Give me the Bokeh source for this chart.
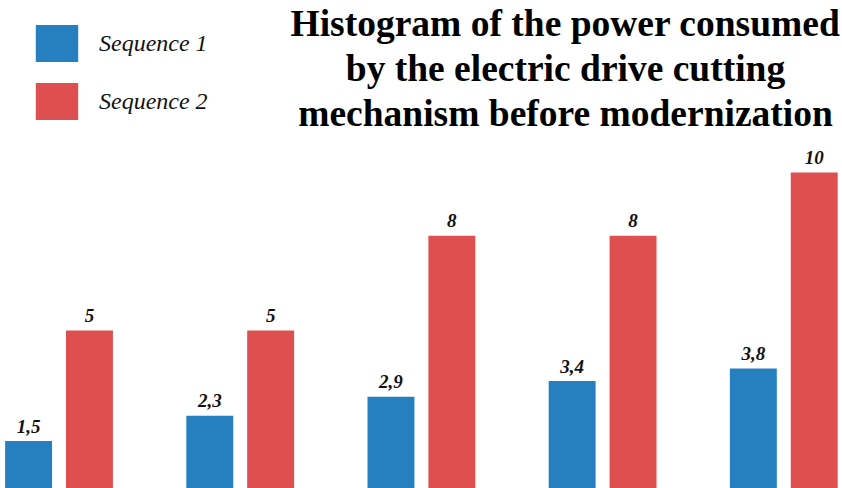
from bokeh.plotting import figure
from bokeh.models import ColumnDataSource, Range1d, Legend, LegendItem, Label
from bokeh.core.properties import value
from bokeh.transform import dodge
from bokeh.embed import file_html
from bokeh.resources import INLINE

# ---- data ----
groups = [0, 1, 2, 3, 4]
seq1 = [1.5, 2.3, 2.9, 3.4, 3.8]
seq2 = [5, 5, 8, 8, 10]
seq1_labels = ["1,5", "2,3", "2,9", "3,4", "3,8"]
seq2_labels = ["5", "5", "8", "8", "10"]
series_names = ["Sequence 1", "Sequence 2"]
title_lines = [
    "Histogram of the power consumed",
    "by the electric drive cutting",
    "mechanism before modernization",
]

BLUE = "#2680C0"
RED = "#DE4F4F"
FONT = "Liberation Serif"

src = ColumnDataSource(dict(x=groups, s1=seq1, s2=seq2, l1=seq1_labels, l2=seq2_labels))

W, H = 842, 488
p = figure(width=W, height=H,
           x_range=Range1d(-0.323, 4.324), y_range=Range1d(0, 15.44),
           x_axis_type=None, y_axis_type=None,
           output_backend="svg", toolbar_location=None,
           min_border=0, margin=0)
p.grid.visible = False
p.outline_line_color = None
p.background_fill_color = "white"
p.border_fill_color = "white"

off = 0.168
bw = 0.259
r1 = p.vbar(x=dodge("x", -off), top="s1", width=bw, bottom=0, source=src,
            fill_color=BLUE, line_color=None)
r2 = p.vbar(x=dodge("x", off), top="s2", width=bw, bottom=0, source=src,
            fill_color=RED, line_color=None)

for col, lab, o in (("s1", "l1", -off), ("s2", "l2", off)):
    p.text(x=dodge("x", o), y=col, text=lab, source=src,
           text_align="center", text_baseline="alphabetic", y_offset=-15,
           text_font=value(FONT), text_font_style="bold italic",
           text_font_size="19px", text_color="#111111")

# title (three centred lines)
baselines = [23, 68, 113]
for line, b in zip(title_lines, baselines):
    p.add_layout(Label(x=565, y=H - b, x_units="screen", y_units="screen",
                       text=line, text_align="center", text_baseline="alphabetic",
                       text_font=FONT, text_font_style="bold",
                       text_font_size="37.5px", text_color="#000000"))

legend = Legend(items=[LegendItem(label=series_names[0], renderers=[r1]),
                       LegendItem(label=series_names[1], renderers=[r2])],
                location=(30, H - 20 - 104),
                glyph_width=53, glyph_height=46, spacing=12,
                label_standoff=16, padding=0, margin=0,
                label_text_font=FONT, label_text_font_style="italic",
                label_text_font_size="24px", label_text_color="#111111",
                border_line_color=None, background_fill_alpha=0)
p.add_layout(legend)

open("out.html", "w").write(file_html(p, INLINE))
